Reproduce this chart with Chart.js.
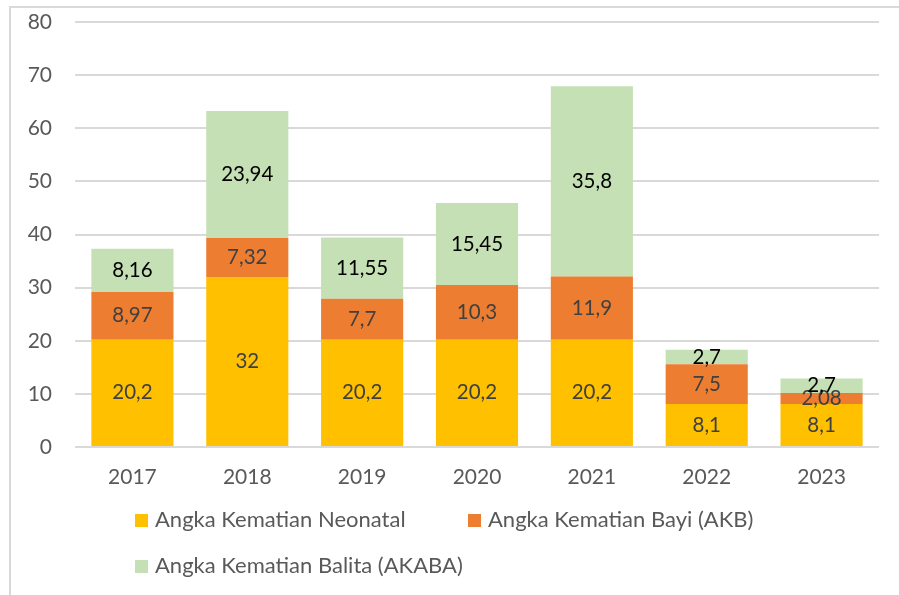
<!DOCTYPE html>
<html>
<head>
<meta charset="utf-8">
<script src="https://cdn.jsdelivr.net/npm/chart.js@4"></script>
<style>
  body { margin:0; background:#fff; font-family: Lato, sans-serif; }
  #wrap { position:relative; width:899px; height:595px; overflow:hidden; }
  #frame { position:absolute; left:9px; top:6px; width:900px; height:600px; border-top:2px solid #d9d9d9; border-left:2px solid #d9d9d9; }
  #chart { position:absolute; left:0; top:0; }
  .lg { position:absolute; font-size:22px; color:#595959; white-space:nowrap; line-height:22px; }
  .lg i { display:inline-block; width:13px; height:13px; margin-right:7px; vertical-align:0px; }
</style>
</head>
<body>
<div id="wrap">
  <div id="frame"></div>
  <canvas id="chart" width="899" height="595"></canvas>
  <div id="legend"></div>
</div>
<script>
const years    = ['2017','2018','2019','2020','2021','2022','2023'];
const neonatal = [20.2, 32, 20.2, 20.2, 20.2, 8.1, 8.1];
const akb      = [8.97, 7.32, 7.7, 10.3, 11.9, 7.5, 2.08];
const akaba    = [8.16, 23.94, 11.55, 15.45, 35.8, 2.7, 2.7];
const seriesNames = ['Angka Kematian Neonatal', 'Angka Kematian Bayi (AKB)', 'Angka Kematian Balita (AKABA)'];
const yTicks = [0, 10, 20, 30, 40, 50, 60, 70, 80];

const fillColors  = ['#FFC000', '#ED7D31', '#C5E0B4'];
const labelColors = ['#404040', '#404040', '#000000'];

// values inside each bar segment
const segLabels = {
  id: 'segLabels',
  afterDatasetsDraw(chart) {
    const ctx = chart.ctx;
    ctx.save();
    ctx.font = '20.5px Lato';
    ctx.textAlign = 'center';
    ctx.textBaseline = 'middle';
    chart.data.datasets.forEach((ds, i) => {
      ctx.fillStyle = labelColors[i];
      chart.getDatasetMeta(i).data.forEach((bar, j) => {
        const txt = String(ds.data[j]).replace('.', ',');
        ctx.fillText(txt, bar.x, (bar.y + bar.base) / 2);
      });
    });
    ctx.restore();
  }
};

const chart = new Chart(document.getElementById('chart'), {
  type: 'bar',
  data: {
    labels: years,
    datasets: [neonatal, akb, akaba].map((d, i) => ({
      label: seriesNames[i], data: d, backgroundColor: fillColors[i],
      barPercentage: 0.715, categoryPercentage: 1
    }))
  },
  options: {
    responsive: false, animation: false,
    layout: { padding: { top: 22, right: 20, bottom: 88, left: 0 } },
    plugins: { legend: { display: false }, tooltip: { enabled: false } },
    scales: {
      x: {
        stacked: true,
        grid: { display: false }, border: { display: false },
        ticks: { color: '#595959', font: { size: 21, family: 'Lato' }, padding: 10 },
        afterFit: s => { s.height = 60; }
      },
      y: {
        stacked: true, min: 0, max: 80,
        afterBuildTicks: s => { s.ticks = yTicks.map(v => ({ value: v })); },
        grid: { color: '#d9d9d9', lineWidth: 2, drawTicks: false }, border: { display: false },
        ticks: { color: '#595959', font: { size: 21, family: 'Lato' }, padding: 23 },
        afterFit: s => { s.width = 75; s.paddingTop = 0; s.paddingBottom = 0; }
      }
    }
  },
  plugins: [segLabels]
});

// legend: two rows, left aligned like the original
const legendPos = [[135, 508], [468, 508], [135, 554]];
document.getElementById('legend').innerHTML = seriesNames.map((n, i) =>
  `<div class="lg" style="left:${legendPos[i][0]}px;top:${legendPos[i][1]}px"><i style="background:${fillColors[i]}"></i>${n}</div>`
).join('');
</script>
</body>
</html>
